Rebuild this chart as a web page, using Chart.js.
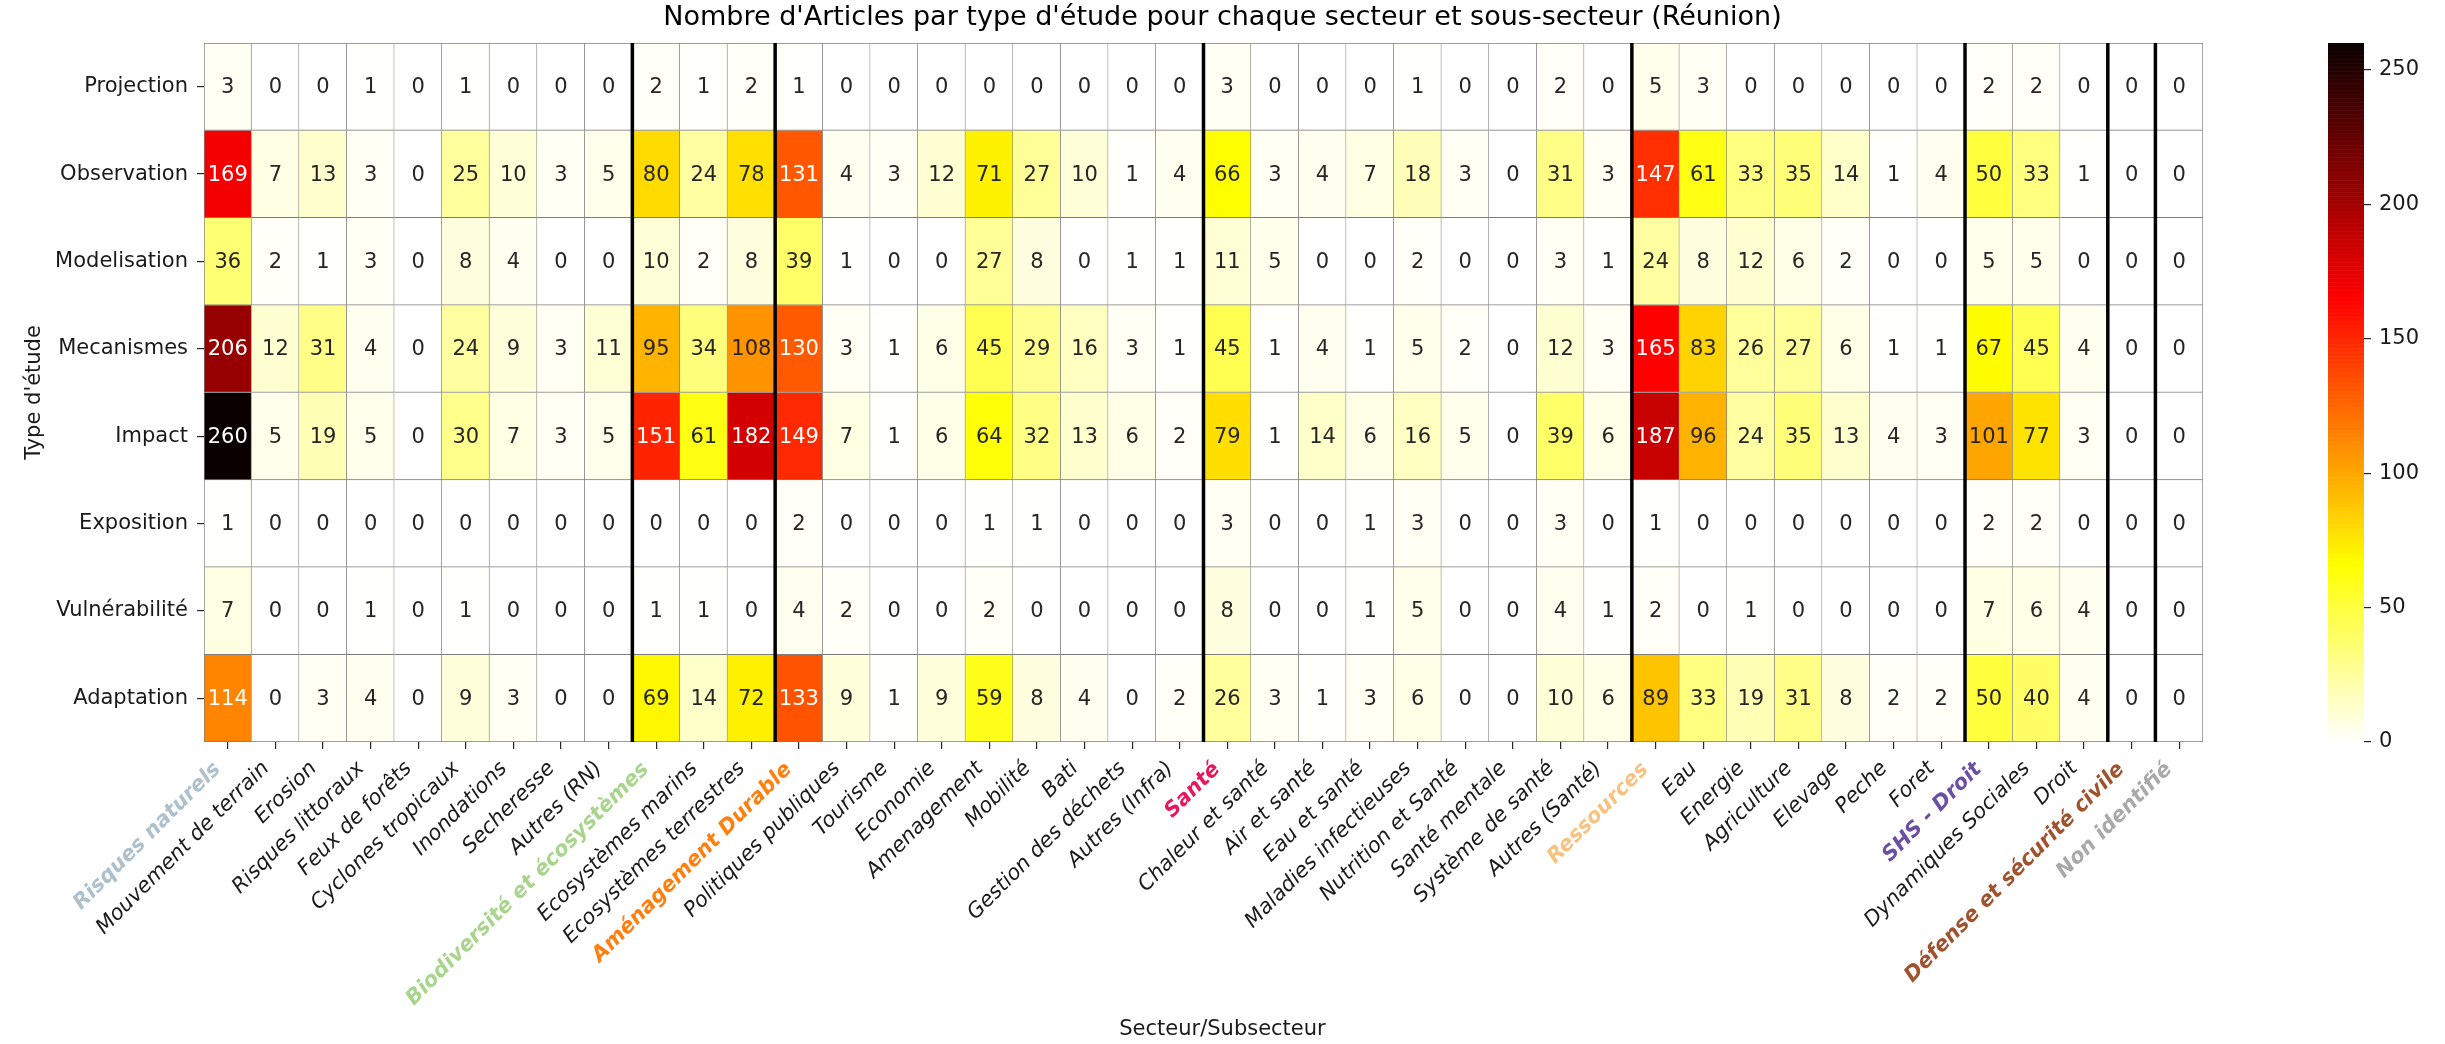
<!DOCTYPE html>
<html lang="fr">
<head>
<meta charset="utf-8">
<title>Nombre d'Articles par type d'étude (Réunion)</title>
<script src="https://cdn.jsdelivr.net/npm/chart.js@4.4.1/dist/chart.umd.min.js"></script>
<style>
    html, body { margin: 0; padding: 0; background: #ffffff; }
    #cadre { position: relative; width: 2445px; height: 1044px; }
</style>
</head>
<body>
<div id="cadre"><canvas id="carteChaleur"></canvas></div>
<script>
//  Lignes (type d'étude) et colonnes (secteur / sous-secteur)
const typesEtude = ["Projection", "Observation", "Modelisation", "Mecanismes", "Impact", "Exposition", "Vulnérabilité", "Adaptation"];

const secteurs = [
    "Risques naturels", "Mouvement de terrain", "Erosion", "Risques littoraux", "Feux de forêts",
    "Cyclones tropicaux", "Inondations", "Secheresse", "Autres (RN)",
    "Biodiversité et écosystèmes", "Ecosystèmes marins", "Ecosystèmes terrestres",
    "Aménagement Durable", "Politiques publiques", "Tourisme", "Economie", "Amenagement",
    "Mobilité", "Bati", "Gestion des déchets", "Autres (Infra)",
    "Santé", "Chaleur et santé", "Air et santé", "Eau et santé", "Maladies infectieuses",
    "Nutrition et Santé", "Santé mentale", "Système de santé", "Autres (Santé)",
    "Ressources", "Eau", "Energie", "Agriculture", "Elevage", "Peche", "Foret",
    "SHS - Droit", "Dynamiques Sociales", "Droit",
    "Défense et sécurité civile",
    "Non identifié"
];

//  Secteurs principaux (étiquettes en gras, en couleur)
const couleursSecteurs = {
    "Risques naturels": "#aebfce",
    "Biodiversité et écosystèmes": "#a8d48c",
    "Aménagement Durable": "#ff7f0e",
    "Santé": "#e8175d",
    "Ressources": "#f7c27e",
    "SHS - Droit": "#6b4fa3",
    "Défense et sécurité civile": "#a0522d",
    "Non identifié": "#a9a9a9"
};

//  Nombre d'articles par ligne
const projection    = [3, 0, 0, 1, 0, 1, 0, 0, 0, 2, 1, 2, 1, 0, 0, 0, 0, 0, 0, 0, 0, 3, 0, 0, 0, 1, 0, 0, 2, 0, 5, 3, 0, 0, 0, 0, 0, 2, 2, 0, 0, 0];
const observation   = [169, 7, 13, 3, 0, 25, 10, 3, 5, 80, 24, 78, 131, 4, 3, 12, 71, 27, 10, 1, 4, 66, 3, 4, 7, 18, 3, 0, 31, 3, 147, 61, 33, 35, 14, 1, 4, 50, 33, 1, 0, 0];
const modelisation  = [36, 2, 1, 3, 0, 8, 4, 0, 0, 10, 2, 8, 39, 1, 0, 0, 27, 8, 0, 1, 1, 11, 5, 0, 0, 2, 0, 0, 3, 1, 24, 8, 12, 6, 2, 0, 0, 5, 5, 0, 0, 0];
const mecanismes    = [206, 12, 31, 4, 0, 24, 9, 3, 11, 95, 34, 108, 130, 3, 1, 6, 45, 29, 16, 3, 1, 45, 1, 4, 1, 5, 2, 0, 12, 3, 165, 83, 26, 27, 6, 1, 1, 67, 45, 4, 0, 0];
const impact        = [260, 5, 19, 5, 0, 30, 7, 3, 5, 151, 61, 182, 149, 7, 1, 6, 64, 32, 13, 6, 2, 79, 1, 14, 6, 16, 5, 0, 39, 6, 187, 96, 24, 35, 13, 4, 3, 101, 77, 3, 0, 0];
const exposition    = [1, 0, 0, 0, 0, 0, 0, 0, 0, 0, 0, 0, 2, 0, 0, 0, 1, 1, 0, 0, 0, 3, 0, 0, 1, 3, 0, 0, 3, 0, 1, 0, 0, 0, 0, 0, 0, 2, 2, 0, 0, 0];
const vulnerabilite = [7, 0, 0, 1, 0, 1, 0, 0, 0, 1, 1, 0, 4, 2, 0, 0, 2, 0, 0, 0, 0, 8, 0, 0, 1, 5, 0, 0, 4, 1, 2, 0, 1, 0, 0, 0, 0, 7, 6, 4, 0, 0];
const adaptation    = [114, 0, 3, 4, 0, 9, 3, 0, 0, 69, 14, 72, 133, 9, 1, 9, 59, 8, 4, 0, 2, 26, 3, 1, 3, 6, 0, 0, 10, 6, 89, 33, 19, 31, 8, 2, 2, 50, 40, 4, 0, 0];

const lignes = [projection, observation, modelisation, mecanismes, impact, exposition, vulnerabilite, adaptation];

//  Échelle de couleur et ticks de la barre
const VMIN = 0;
const VMAX = 260;
const ticksBarre = [0, 50, 100, 150, 200, 250];

//  Colonnes après lesquelles on trace un séparateur épais
const separateurs = [9, 12, 21, 30, 37, 40, 41];

const POLICE = "'DejaVu Sans', 'Noto Sans', sans-serif";

//  Colormap "hot" inversée (comme matplotlib hot_r)
function hotR(v) {
    const s = 1 - (v - VMIN) / (VMAX - VMIN);
    const r = s < 0.365079 ? 0.0416 + (1 - 0.0416) * s / 0.365079 : 1;
    const g = s < 0.365079 ? 0 : (s < 0.746032 ? (s - 0.365079) / (0.746032 - 0.365079) : 1);
    const b = s < 0.746032 ? 0 : (s - 0.746032) / (1 - 0.746032);
    return [r, g, b];
}

function enCss(c) {
    return `rgb(${Math.round(c[0] * 255)}, ${Math.round(c[1] * 255)}, ${Math.round(c[2] * 255)})`;
}

//  Couleur du texte selon la luminance de la case (règle seaborn)
function couleurTexte(v) {
    const lin = hotR(v).map(c => c <= 0.03928 ? c / 12.92 : Math.pow((c + 0.055) / 1.055, 2.4));
    const lum = 0.2126 * lin[0] + 0.7152 * lin[1] + 0.0722 * lin[2];
    return lum > 0.408 ? "#262626" : "#ffffff";
}

//  Une série par type d'étude : chaque case est une barre flottante [ligne, ligne + 1]
const datasets = lignes.map((valeurs, r) => ({
    label: typesEtude[r],
    yAxisID: "y",
    data: valeurs.map(() => [r, r + 1]),
    valeurs: valeurs,
    backgroundColor: valeurs.map(v => enCss(hotR(v))),
    borderColor: "#7d7d7d",
    borderWidth: ctx => ({
        top: ctx.datasetIndex === 0 ? 1 : 0,
        left: ctx.dataIndex === 0 ? 1 : 0,
        right: 1,
        bottom: 1
    }),
    borderSkipped: false,
    barPercentage: 1,
    categoryPercentage: 1,
    grouped: false
}));

//  Annotations dans chaque case
const pluginValeurs = {
    id: "valeurs",
    afterDatasetsDraw(chart) {
        const ctx = chart.ctx;
        ctx.save();
        ctx.font = `21px ${POLICE}`;
        ctx.textAlign = "center";
        ctx.textBaseline = "middle";
        chart.data.datasets.forEach((ds, i) => {
            chart.getDatasetMeta(i).data.forEach((barre, j) => {
                const v = ds.valeurs[j];
                ctx.fillStyle = couleurTexte(v);
                ctx.fillText(String(v), barre.x, (barre.y + barre.base) / 2 + 1);
            });
        });
        ctx.restore();
    }
};

//  Séparateurs verticaux épais entre secteurs
const pluginSeparateurs = {
    id: "separateurs",
    afterDatasetsDraw(chart) {
        const { ctx, chartArea } = chart;
        const x = chart.scales.x;
        ctx.save();
        ctx.strokeStyle = "#000000";
        ctx.lineWidth = 3.5;
        separateurs.forEach(k => {
            const px = (x.getPixelForValue(k - 1) + x.getPixelForValue(k)) / 2;
            ctx.beginPath();
            ctx.moveTo(px, chartArea.top);
            ctx.lineTo(px, chartArea.bottom);
            ctx.stroke();
        });
        ctx.restore();
    }
};

//  Barre de couleur, dessinée sur l'échelle "barre"
const LARGEUR_BARRE = 36;
const pluginBarre = {
    id: "barreCouleur",
    afterDraw(chart) {
        const { ctx } = chart;
        const echelle = chart.scales.barre;
        const x1 = echelle.left;
        const x0 = x1 - LARGEUR_BARRE;
        const pas = 0.5;
        ctx.save();
        for (let v = VMIN; v < VMAX; v += pas) {
            const yb = echelle.getPixelForValue(v);
            const yh = echelle.getPixelForValue(Math.min(v + pas, VMAX));
            ctx.fillStyle = enCss(hotR(v + pas / 2));
            ctx.fillRect(x0, yh, LARGEUR_BARRE, yb - yh + 0.6);
        }
        ctx.restore();
    }
};

const texteNoir = "#1a1a1a";

new Chart(document.getElementById("carteChaleur"), {
    type: "bar",
    data: { labels: secteurs, datasets: datasets },
    options: {
        responsive: true,
        maintainAspectRatio: false,
        animation: false,
        layout: { padding: { left: 0, right: 0, top: 0, bottom: 0 } },
        plugins: {
            legend: { display: false },
            tooltip: { enabled: false },
            title: {
                display: true,
                text: "Nombre d'Articles par type d'étude pour chaque secteur et sous-secteur (Réunion)",
                color: "#000000",
                font: { family: POLICE, size: 27, weight: "normal" },
                padding: { top: 2, bottom: 8.6 }
            },
            // titre de l'axe x, centré sur toute la figure
            subtitle: {
                display: true,
                position: "bottom",
                text: "Secteur/Subsecteur",
                color: texteNoir,
                font: { family: POLICE, size: 21, weight: "normal" },
                padding: { top: 0, bottom: 1.4 }
            }
        },
        scales: {
            y: {
                type: "linear",
                position: "left",
                min: 0,
                max: typesEtude.length,
                reverse: true,
                afterBuildTicks: s => { s.ticks = typesEtude.map((_, i) => ({ value: i + 0.5 })); },
                afterFit: s => { s.width = 204; },
                grid: { display: true, drawOnChartArea: false, drawTicks: true, tickLength: 7, color: "#262626", lineWidth: 1.2 },
                border: { display: false },
                ticks: {
                    autoSkip: false,
                    padding: 9,
                    color: texteNoir,
                    font: { family: POLICE, size: 21 },
                    callback: (v, i) => typesEtude[i]
                },
                title: {
                    display: true,
                    text: "Type d'étude",
                    color: texteNoir,
                    font: { family: POLICE, size: 21 },
                    padding: { top: 22, bottom: 0 }
                }
            },
            x: {
                type: "category",
                position: "bottom",
                offset: true,
                afterFit: s => { s.height = 302 - 26.6; },
                grid: { display: true, offset: false, drawOnChartArea: false, drawTicks: true, tickLength: 7, color: "#262626", lineWidth: 1.2 },
                border: { display: false },
                ticks: {
                    autoSkip: false,
                    minRotation: 45,
                    maxRotation: 45,
                    padding: -2,
                    // deux espaces finales : décale le texte vers le bas-gauche comme l'alignement de matplotlib
                    callback: (v, i) => secteurs[i] + "  ",
                    color: ctx => couleursSecteurs[secteurs[ctx.index]] || texteNoir,
                    font: ctx => ({
                        family: POLICE,
                        size: 21,
                        style: "italic",
                        weight: couleursSecteurs[secteurs[ctx.index]] ? "bold" : "normal"
                    })
                }
            },
            espace: {
                type: "linear",
                position: "right",
                weight: 0,
                display: true,
                afterFit: s => { s.width = 125 + LARGEUR_BARRE; },
                grid: { display: false },
                border: { display: false },
                ticks: { display: false }
            },
            barre: {
                type: "linear",
                position: "right",
                weight: 1,
                min: VMIN,
                max: VMAX,
                afterBuildTicks: s => { s.ticks = ticksBarre.map(v => ({ value: v })); },
                afterFit: s => { s.width = 81; },
                grid: { display: true, drawOnChartArea: false, drawTicks: true, tickLength: 7, color: "#262626", lineWidth: 1.2 },
                border: { display: false },
                ticks: {
                    includeBounds: false,
                    padding: 8,
                    color: texteNoir,
                    font: { family: POLICE, size: 21 }
                }
            }
        }
    },
    plugins: [pluginValeurs, pluginSeparateurs, pluginBarre]
});
</script>
</body>
</html>
